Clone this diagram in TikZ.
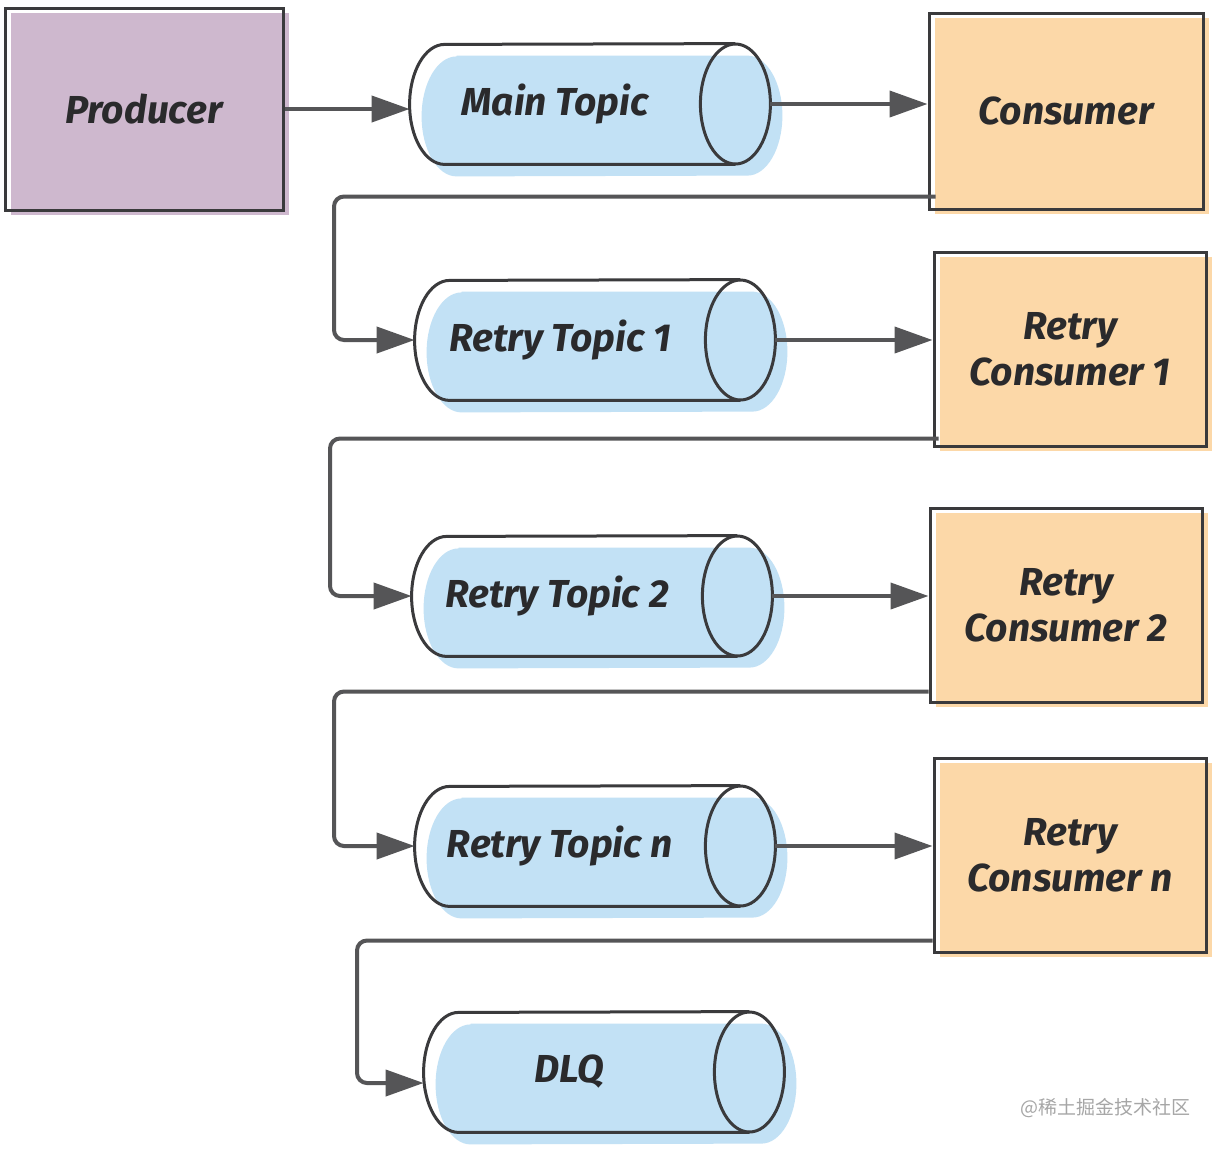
\documentclass[tikz,border=0pt]{standalone}
\usepackage{fontspec}
\setmainfont{Fira Sans}
\newfontfamily\cjk{Noto Sans CJK SC}
\usetikzlibrary{arrows.meta}
\definecolor{edgec}{HTML}{3A3A3C}
\definecolor{connc}{HTML}{555557}
\definecolor{purplef}{HTML}{CEB8CE}
\definecolor{peachf}{HTML}{FCD8A8}
\definecolor{bluef}{HTML}{C2E1F5}
\definecolor{txtc}{HTML}{2A2A2C}
\tikzset{
  lbl/.style={font=\fontsize{19.5}{23}\selectfont\bfseries\itshape, text=txtc, align=center},
  boxline/.style={draw=edgec, line width=1.5pt, inner sep=0pt},
  boxbg/.style={draw=none, inner sep=0pt},
  cylnode/.style={draw=none, inner sep=0pt, minimum width=180pt, minimum height=60pt},
  cylline/.style={draw=edgec, line width=1.5pt},
  conn/.style={draw=connc, line width=2pt, -{Triangle[length=19pt,width=13pt]}, rounded corners=5pt},
}
% name, cx, cy, w, h, fill, text
\newcommand\qbox[7]{%
  \node[boxbg, fill=#6, minimum width=#4*0.5pt, minimum height=#5*0.5pt] (#1-bg) at (#2+6,#3+5) {};
  \node[boxline, lbl, minimum width=#4*0.5pt, minimum height=#5*0.5pt] (#1) at (#2,#3) {#7};
}
% name, cx, cy, text
\newcommand\qcyl[4]{%
  \node[cylnode] (#1) at (#2,#3) {};
  \fill[bluef] ([shift={(23.5pt,-6pt)}]#1.north west) -- ([shift={(-11.5pt,-6pt)}]#1.north east)
     arc[start angle=90, end angle=-90, x radius=17.5pt, y radius=30pt]
     -- ([shift={(23.5pt,-6pt)}]#1.south west)
     arc[start angle=270, end angle=90, x radius=17.5pt, y radius=30pt] -- cycle;
  \draw[cylline] ([xshift=-17.5pt]#1.south east) -- ([xshift=17.5pt]#1.south west)
     arc[start angle=270, end angle=90, x radius=17.5pt, y radius=30pt]
     -- ([xshift=-17.5pt]#1.north east);
  \draw[cylline] ([xshift=-17.5pt]#1.east) ellipse[x radius=17.5pt, y radius=30pt];
  \node[lbl] (#1-t) at ([xshift=-17.5pt]#1.center) {#4};
}
\begin{document}
\begin{tikzpicture}[x=0.5pt, y=-0.5pt]
\useasboundingbox (0,0) rectangle (1222,1148);
\fill[white] (0,0) rectangle (1222,1148);

\qbox{prod}{144}{109}{278}{202}{purplef}{Producer}
\qbox{cons}{1066}{111}{274}{196}{peachf}{Consumer}
\qbox{rc1}{1070}{349}{272}{194}{peachf}{Retry\\Consumer 1}
\qbox{rc2}{1066}{605}{272}{194}{peachf}{Retry\\Consumer 2}
\qbox{rcn}{1070}{855}{272}{194}{peachf}{Retry\\Consumer \textit{n}}

\qcyl{mt}{590}{104}{Main Topic}
\qcyl{rt1}{595}{340}{Retry Topic 1}
\qcyl{rt2}{592}{596}{Retry Topic 2}
\qcyl{rtn}{595}{846}{Retry Topic \textit{n}}
\qcyl{dlq}{604}{1072}{DLQ}

\coordinate (k1) at (334,340);
\coordinate (k2) at (330,596);
\coordinate (k3) at (334,846);
\coordinate (k4) at (357,1083);

\draw[conn] (prod.east) -- (prod.east -| mt.west);
\draw[conn] (mt.east) -- (mt.east -| cons.west);
\draw[conn] (rt1.east) -- (rt1.east -| rc1.west);
\draw[conn] (rt2.east) -- (rt2.east -| rc2.west);
\draw[conn] (rtn.east) -- (rtn.east -| rcn.west);

\draw[conn] ([shift={(4pt,7pt)}]cons.south west) -| (k1) -- (rt1.west);
\draw[conn] ([shift={(3pt,4.5pt)}]rc1.south west) -| (k2) -- (rt2.west);
\draw[conn] ([shift={(0pt,6pt)}]rc2.south west) -| (k3) -- (rtn.west);
\draw[conn] ([shift={(0pt,6.5pt)}]rcn.south west) -| (k4) -- (k4 -| dlq.west);

\node[font=\cjk\fontsize{9.5}{10}\selectfont, text=gray!70, anchor=east] (wm) at (1198,1108) {@稀土掘金技术社区};
\end{tikzpicture}
\end{document}
